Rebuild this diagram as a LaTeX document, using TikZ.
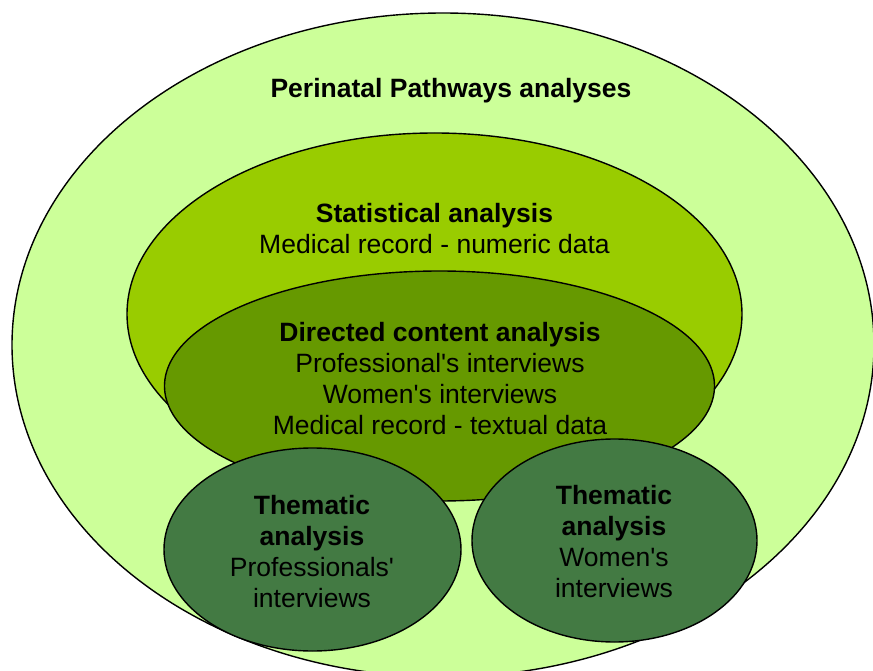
\documentclass[tikz,border=0pt]{standalone}
\usepackage{fontspec}
\setmainfont{Liberation Sans}
\usetikzlibrary{shapes.geometric}
\definecolor{outergreen}{HTML}{CCFF99}
\definecolor{statgreen}{HTML}{99CC00}
\definecolor{dirgreen}{HTML}{669900}
\definecolor{themgreen}{HTML}{437A43}
\tikzset{
  blob/.style={ellipse, draw=black, line width=1.4pt, inner sep=0pt, outer sep=0pt},
  caption/.style={align=center, font=\fontsize{26.5}{31}\selectfont, inner sep=0pt, text=black}
}
\newcommand{\apos}{\textquotesingle}
\begin{document}
\begin{tikzpicture}[x=1pt, y=-1pt]
  \useasboundingbox (0,0) rectangle (873,671);
  \clip (0,0) rectangle (873,671);
  % nested analysis regions
  \node[blob, fill=outergreen, minimum width=862pt, minimum height=664pt] (outer) at (443,345) {};
  \node[blob, fill=statgreen, minimum width=615pt, minimum height=362pt] (stat) at (434.5,314) {};
  \node[blob, fill=dirgreen, minimum width=550pt, minimum height=230pt] (directed) at (439.5,386) {};
  \node[blob, fill=themgreen, minimum width=297pt, minimum height=203pt] (themprof) at (312.5,549.5) {};
  \node[blob, fill=themgreen, minimum width=285pt, minimum height=203pt] (themwomen) at (614.5,540.5) {};
  % labels
  \node[caption] (outerlbl) at (451,91) {\textbf{Perinatal Pathways analyses}};
  \node[caption, anchor=north] (statlbl) at (434.5,203) {\textbf{Statistical analysis}\\Medical record - numeric data};
  \node[caption, anchor=north] (dirlbl) at (440,322) {\textbf{Directed content analysis}\\Professional\apos s interviews\\Women\apos s interviews\\Medical record - textual data};
  \node[caption, anchor=north] (proflbl) at (312,495) {\textbf{Thematic}\\\textbf{analysis}\\Professionals\apos\\interviews};
  \node[caption, anchor=north] (womenlbl) at (614,485) {\textbf{Thematic}\\\textbf{analysis}\\Women\apos s\\interviews};
\end{tikzpicture}
\end{document}
